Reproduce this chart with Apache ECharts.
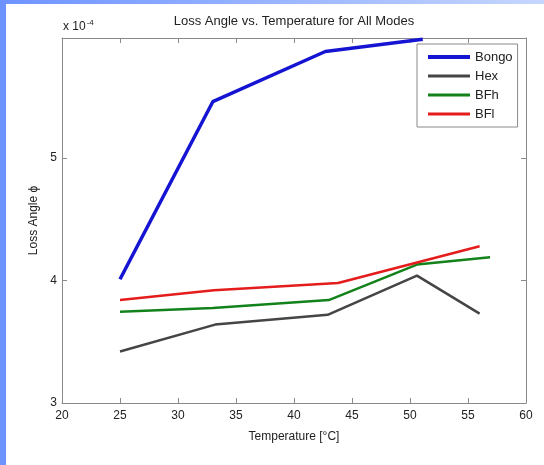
<!DOCTYPE html>
<html>
<head>
<meta charset="utf-8">
<script src="https://cdn.jsdelivr.net/npm/echarts@6/dist/echarts.min.js"></script>
<style>html,body{margin:0;padding:0;background:#fff;}#c{width:544px;height:465px;}</style>
</head>
<body>
<div id="c"></div>
<script>
// Data (loss angle in units of 1e-4)
var seriesNames = ['Bongo', 'Hex', 'BFh', 'BFl'];
var bongoTemp = [25, 33, 42.7, 51.1];
var bongoLoss = [4.01, 5.46, 5.87, 5.97];
var hexTemp = [25, 33.2, 42.9, 50.6, 56.0];
var hexLoss = [3.42, 3.64, 3.72, 4.04, 3.73];
var bfhTemp = [25, 33, 43, 50.6, 56.9];
var bfhLoss = [3.745, 3.775, 3.84, 4.13, 4.19];
var bflTemp = [25, 33.1, 43.8, 56.0];
var bflLoss = [3.84, 3.92, 3.98, 4.28];
var xTicks = [20, 25, 30, 35, 40, 45, 50, 55, 60];
var yTicks = [3, 4, 5];

function pairs(t, v) { return t.map(function (x, i) { return [x, v[i]]; }); }

var FONT = '"Liberation Sans", Arial, sans-serif';
var axisCol = '#8a8a8a';
var txtCol = '#222';

var chart = echarts.init(document.getElementById('c'), null, {renderer: 'canvas'});

function baseX(pos, showLabel) {
  return {
    type: 'value', position: pos, min: xTicks[0], max: xTicks[xTicks.length - 1], interval: 5,
    axisLine: {show: true, lineStyle: {color: axisCol, width: 1}},
    axisTick: {show: true, inside: true, length: 5, lineStyle: {color: axisCol}},
    axisLabel: {show: showLabel, color: txtCol, fontFamily: FONT, fontSize: 12, margin: 7},
    splitLine: {show: false}
  };
}
function baseY(pos, showLabel) {
  return {
    type: 'value', position: pos, min: yTicks[0], max: 5.98, interval: 1,
    axisLine: {show: true, lineStyle: {color: axisCol, width: 1}},
    axisTick: {show: true, inside: true, length: 5, lineStyle: {color: axisCol}},
    axisLabel: {show: showLabel, color: txtCol, fontFamily: FONT, fontSize: 12, margin: 5,
      formatter: function (v) { return yTicks.indexOf(v) >= 0 ? String(v) : ''; }},
    splitLine: {show: false}
  };
}

var xb = baseX('bottom', true);
xb.name = 'Temperature [\u00B0C]';
xb.nameLocation = 'middle';
xb.nameGap = 28;
xb.nameTextStyle = {color: txtCol, fontFamily: FONT, fontSize: 12};
var yl = baseY('left', true);
yl.name = 'Loss Angle \u03D5';
yl.nameLocation = 'middle';
yl.nameGap = 19;
yl.nameTextStyle = {color: txtCol, fontFamily: FONT, fontSize: 12};

var colors = ['#1414d2', '#454545', '#13821a', '#e41c1c'];
var widths = [3.5, 2.5, 2.5, 2.5];
var legendWidths = [4, 3, 3, 3];
var datasets = [pairs(bongoTemp, bongoLoss), pairs(hexTemp, hexLoss), pairs(bfhTemp, bfhLoss), pairs(bflTemp, bflLoss)];

var option = {
  backgroundColor: '#ffffff',
  animation: false,
  grid: {left: 62, right: 18, top: 38, bottom: 62, show: false},
  xAxis: [xb, baseX('top', false)],
  yAxis: [yl, baseY('right', false)],
  legend: {
    orient: 'vertical', left: 417, top: 44, width: 101,
    data: seriesNames.map(function (n, i) {
      return {name: n, itemStyle: {opacity: 0}, lineStyle: {width: legendWidths[i], color: colors[i]}};
    }),
    itemWidth: 42, itemHeight: 14, itemGap: 5,
    padding: [6, 5, 6, 9],
    borderColor: '#8a8a8a', borderWidth: 1, backgroundColor: '#fff',
    itemStyle: {opacity: 0},
    textStyle: {color: txtCol, fontFamily: FONT, fontSize: 13, lineHeight: 14},
    selectedMode: false
  },
  series: seriesNames.map(function (n, i) {
    return {
      name: n, type: 'line', xAxisIndex: 0, yAxisIndex: 0,
      data: datasets[i], symbol: 'none', smooth: false,
      lineStyle: {color: colors[i], width: widths[i]},
      itemStyle: {color: colors[i]},
      z: 3
    };
  }),
  graphic: [
    {type: 'rect', left: 0, top: 0, shape: {width: 6, height: 465}, style: {fill: '#6d93ff'}, z: 100},
    {type: 'rect', left: 0, top: 0, shape: {width: 544, height: 4},
      style: {fill: new echarts.graphic.LinearGradient(0, 0, 1, 0, [{offset: 0, color: '#6d93ff'}, {offset: 1, color: '#c6d6ff'}])}, z: 100},
    {type: 'text', x: 294, y: 15, style: {text: 'Loss Angle vs. Temperature for All Modes', fill: txtCol,
      font: '13px "Liberation Sans", Arial, sans-serif', textAlign: 'center', textVerticalAlign: 'top'}, z: 100},
    {type: 'text', x: 63, y: 19, style: {text: '{a|x 10}{b|-4}', fill: txtCol, textVerticalAlign: 'top',
      rich: {a: {fontSize: 12, fontFamily: FONT, fill: txtCol, color: txtCol},
             b: {fontSize: 8, fontFamily: FONT, fill: txtCol, color: txtCol, padding: [0, 0, 8, 1]}}}, z: 100}
  ]
};
chart.setOption(option);
</script>
</body>
</html>
